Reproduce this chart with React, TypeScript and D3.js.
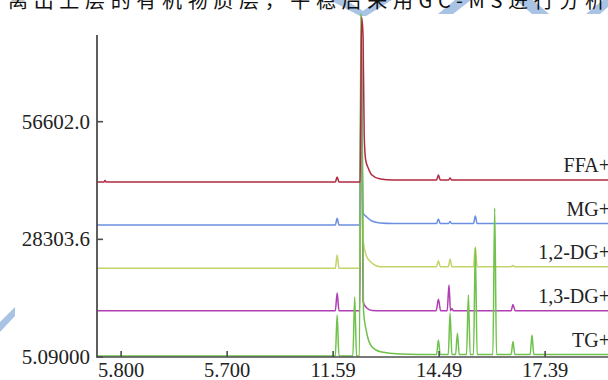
import React from 'react';
import * as d3 from 'd3';

const W = 608;
const H = 380;

// Retention time (min) and detector response for each stacked trace.
const ffaTrace: [number, number][] = [
  [5.13, 42090], [5.32, 42090], [5.35, 42450], [5.38, 42090],
  [11.65, 42090], [11.7, 43300], [11.75, 42090],
  [12.33, 42090], [12.37, 81780], [12.41, 77000], [12.44, 53400], [12.48, 47400],
  [12.55, 45450], [12.65, 43780], [12.88, 42810], [13.23, 42570],
  [14.42, 42570], [14.47, 43780], [14.52, 42570],
  [14.75, 42570], [14.79, 43050], [14.83, 42570],
  [19.11, 42570],
];

const mgTrace: [number, number][] = [
  [5.13, 31750], [11.65, 31750], [11.7, 33360], [11.75, 31750],
  [12.32, 31750], [12.36, 77450], [12.41, 34640], [12.51, 33680], [12.65, 32710],
  [12.88, 32230], [13.23, 32110],
  [14.42, 32110], [14.47, 33200], [14.52, 32110],
  [14.75, 32110], [14.79, 32590], [14.83, 32110],
  [15.43, 32110], [15.48, 33920], [15.53, 32110],
  [19.11, 32110],
];

const dg12Trace: [number, number][] = [
  [5.13, 21340], [11.65, 21340], [11.7, 24540], [11.75, 21340],
  [12.32, 21340], [12.36, 79850], [12.41, 28140], [12.51, 24130], [12.65, 22610],
  [12.88, 21720],
  [14.42, 21720], [14.47, 23170], [14.52, 21720],
  [14.74, 21720], [14.79, 23500], [14.84, 21720],
  [15.43, 21720], [15.48, 26460], [15.53, 21720],
  [16.46, 21720], [16.51, 22010], [16.56, 21720],
  [19.11, 21720],
];

const dg13Trace: [number, number][] = [
  [5.13, 11140], [11.65, 11140], [11.7, 15410], [11.75, 11140],
  [12.32, 11140], [12.36, 78650], [12.41, 13310], [12.51, 11790], [12.66, 11190],
  [12.9, 11140],
  [14.41, 11140], [14.47, 13880], [14.53, 11140],
  [14.71, 11140], [14.76, 17320], [14.8, 11140], [14.84, 11670], [14.88, 11140],
  [16.46, 11140], [16.51, 12630], [16.57, 11140],
  [19.11, 11140],
];

const tgTrace: [number, number][] = [
  [5.13, 245], [11.65, 245], [11.7, 10110], [11.75, 245],
  [12.13, 245], [12.18, 14440], [12.23, 245],
  [12.31, 245], [12.35, 82500], [12.42, 11310], [12.51, 5780], [12.65, 2480],
  [12.88, 1280], [13.42, 730],
  [14.42, 606], [14.47, 4090], [14.52, 606],
  [14.74, 606], [14.79, 10590], [14.84, 606],
  [14.94, 606], [14.99, 5700], [15.04, 606],
  [15.24, 606], [15.29, 14920], [15.34, 606],
  [15.43, 606], [15.48, 26220], [15.53, 606],
  [15.96, 606], [16.01, 35840], [16.06, 606],
  [16.46, 606], [16.51, 3730], [16.56, 606],
  [16.98, 606], [17.03, 5300], [17.08, 606],
  [19.11, 606],
];

// Drawing order: lowest layer first, FFA+ on top.
const seriesNames = ['1,3-DG+', '1,2-DG+', 'MG+', 'TG+', 'FFA+'];
const seriesData = [dg13Trace, dg12Trace, mgTrace, tgTrace, ffaTrace];
const seriesColors = ['#b13fb4', '#c4d36a', '#6b8ee0', '#6fc24b', '#b12a40'];

const yTickValues = [5.09, 28303.6, 56602.0];
const yTickLabels = ['5.09000', '28303.6', '56602.0'];
const xTickValues = [5.79, 8.69, 11.59, 14.49, 17.39];
const xTickLabels = ['5.800', '5.700', '11.59', '14.49', '17.39'];

const headerLine = '离出上层的有机物质层，平稳后采用GC-MS进行分析';

export default function App() {
  const x = d3.scaleLinear().domain([5.13, 19.11]).range([97, 608]);
  const y = d3.scaleLinear().domain([5.09, 56602.0]).range([357, 121.7]);
  const line = d3
    .line<[number, number]>()
    .x((d) => x(d[0]))
    .y((d) => y(d[1]))
    .curve(d3.curveMonotoneX);

  const serif = "'Liberation Serif', 'Times New Roman', serif";
  const axisColor = '#4d4d4d';

  return (
    <svg
      width={W}
      height={H}
      viewBox={`0 0 ${W} ${H}`}
      style={{ position: 'absolute', left: 0, top: 0, background: '#fff' }}
    >
      {/* light blue page decorations */}
      <g fill="#a9c3e4">
        <polygon points="330,0 346,0 363,11 378,0 392,0 366,16 360,16" />
        <polygon points="455,0 471,0 453,14 438,14" />
        <polygon points="516,0 533,0 549,14 532,14" />
        <polygon points="603,0 608,0 608,7 600,14 586,14" />
        <polygon points="0,322 15,307 15,316 0,332" />
      </g>

      <text
        x={8}
        y={8}
        fontFamily="'Noto Sans CJK SC', sans-serif"
        fontSize={20}
        fill="#111"
        textLength={597}
        lengthAdjust="spacing"
      >
        {headerLine}
      </text>

      {/* traces */}
      {seriesData.map((data, i) => (
        <path
          key={seriesNames[i]}
          d={line(data) || ''}
          fill="none"
          stroke={seriesColors[i]}
          strokeWidth={1.5}
          strokeLinejoin="round"
        />
      ))}

      {/* axes */}
      <line x1={97} y1={35} x2={97} y2={357} stroke={axisColor} strokeWidth={1.8} />
      <line x1={96} y1={357} x2={608} y2={357} stroke={axisColor} strokeWidth={1.6} />

      {yTickValues.map((v, i) => (
        <g key={yTickLabels[i]}>
          <line x1={97} x2={103} y1={y(v)} y2={y(v)} stroke={axisColor} strokeWidth={1.6} />
          <text
            x={90}
            y={y(v)}
            dy="0.34em"
            textAnchor="end"
            fontFamily={serif}
            fontSize={21}
            fill="#222"
          >
            {yTickLabels[i]}
          </text>
        </g>
      ))}

      {xTickValues.map((v, i) => (
        <g key={xTickLabels[i]}>
          <line x1={x(v)} x2={x(v)} y1={357} y2={351} stroke={axisColor} strokeWidth={1.6} />
          <text
            x={x(v)}
            y={377}
            textAnchor="middle"
            fontFamily={serif}
            fontSize={20.5}
            fill="#222"
          >
            {xTickLabels[i]}
          </text>
        </g>
      ))}

      {/* trace names at the right end */}
      {seriesData.map((data, i) => (
        <text
          key={'lbl' + seriesNames[i]}
          x={610}
          y={y(data[data.length - 1][1]) - 8}
          textAnchor="end"
          fontFamily={serif}
          fontSize={20}
          fill="#222"
        >
          {seriesNames[i]}
        </text>
      ))}
    </svg>
  );
}
